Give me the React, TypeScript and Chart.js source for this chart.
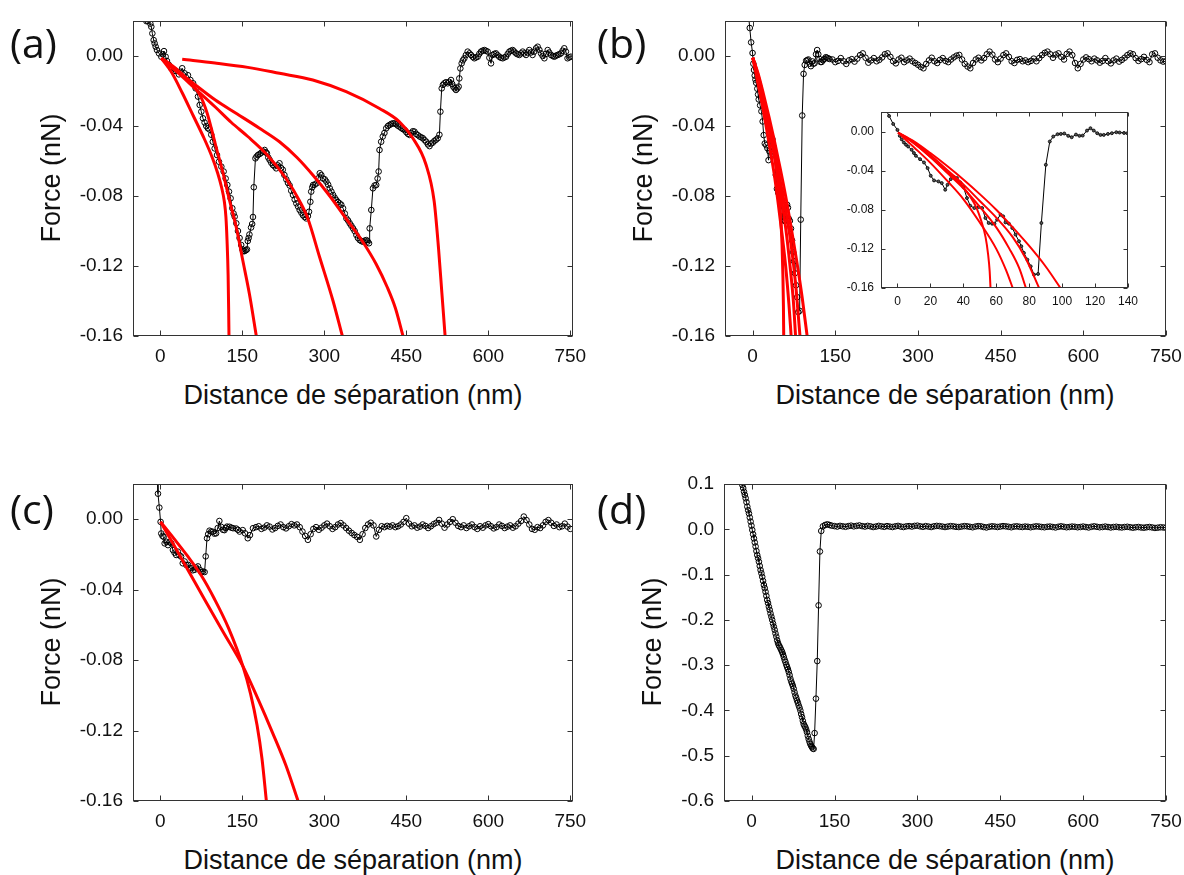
import React, { useEffect, useRef } from "react";
import { Chart, registerables } from "chart.js";

Chart.register(...registerables);

const FONT = '"Liberation Sans", Arial, sans-serif';
const LABEL_FONT = '"Open Sans", sans-serif';

// ---------- axis ticks ----------
const X_TICKS = [0, 150, 300, 450, 600, 750];
const Y_TICKS = [-0.16, -0.12, -0.08, -0.04, 0];
const D_Y_TICKS = [-0.6, -0.5, -0.4, -0.3, -0.2, -0.1, 0, 0.1];
const INSET_X_TICKS = [0, 20, 40, 60, 80, 100, 120, 140];

// ---------- panel (a) data: distance (nm), force (nN) ----------
const A_DIST = [
  -25.5, -22.7, -18.3, -16.5, -14.6, -12.2, -10.4, -8.5, -6.1, -2.4,
  1.8, 4.5, 6.7, 9.7, 12.2, 15.8, 20, 24, 29, 34,
  37, 40, 44.5, 50.6, 55, 60, 64.6, 68.9, 72, 75,
  78, 81, 84, 87, 90, 93.2, 96, 99.4, 103.7, 107.3,
  111.6, 115.8, 119.5, 122.6, 125.6, 128.6, 131.7, 134, 136, 139,
  142, 145, 148, 150, 152, 154, 156.5, 158.5, 160, 161.5,
  163, 166, 168, 169.5, 171, 174, 176, 178.6, 181.7, 184.7,
  187.7, 190.8, 193, 195, 197.5, 200, 203, 206, 209, 212,
  215, 218, 221, 224, 227, 230.5, 233.5, 236.6, 239.5, 242.7,
  245.8, 248.8, 252, 254.9, 258, 261, 264, 267, 270, 272,
  274.5, 276, 278, 279.5, 282.5, 285.6, 288.5, 291.7, 294.5, 297.8,
  301, 303.8, 307, 310, 313, 316, 319, 322, 325, 328,
  331, 334.3, 337.5, 340.4, 343.5, 346.5, 349.5, 352.6, 355.5, 358.7,
  361.5, 364.8, 368, 370.9, 374, 377, 379.5, 381.8, 383, 386,
  389, 392, 395, 397.5, 399.4, 401, 404, 407, 410, 413.3,
  416.5, 419.5, 422.5, 425.5, 428.6, 431.5, 434.5, 437.7, 441, 444,
  446.9, 450, 453, 456, 459, 462, 465, 468, 471, 474.3,
  477.5, 480.5, 483.4, 486.5, 489.5, 492.5, 495.5, 498.4, 501.5, 504.5,
  507.5, 510.6, 512.4, 514.8, 517, 519.6, 522.5, 525.7, 528.7, 531.8,
  534, 536, 538.5, 540.9, 543.5, 545.8, 547, 548.9, 551.3, 553.5,
  556.2, 559, 562.3, 565.5, 568.4, 571.5, 574.5, 577.5, 580.6, 583.5,
  586.7, 589.5, 592.8, 595.5, 598.9, 602, 605, 608, 611, 614,
  617, 620, 623, 626.4, 629.5, 632.5, 635.5, 638.6, 641.5, 644.7,
  647.5, 650.8, 653.5, 656.9, 660, 663, 666, 669, 672, 675,
  678, 681, 684, 687.4, 690.4, 693.5, 696.5, 699.5, 702.6, 705.5,
  708.7, 711.5, 714.8, 718, 720.9, 724, 727, 730, 733, 736,
  739, 742, 745, 748, 751,
];
const A_FORCE = [
  0.0199, 0.02, 0.0185, 0.0167, 0.0129, 0.0091, 0.0072, 0.0053, 0.0034, 0.0015,
  -0.0004, 0.001, 0.0028, -0.0004, -0.0029, -0.0051, -0.007, -0.0086, -0.0086, -0.0105,
  -0.009, -0.007, -0.0099, -0.011, -0.0137, -0.0156, -0.0185, -0.0232, -0.028, -0.0318,
  -0.0356, -0.038, -0.04, -0.0413, -0.042, -0.045, -0.049, -0.0528, -0.0566, -0.0604,
  -0.0632, -0.066, -0.07, -0.0737, -0.0775, -0.0813, -0.087, -0.09, -0.0918, -0.0956,
  -0.1, -0.104, -0.108, -0.1105, -0.1115, -0.1115, -0.111, -0.1105, -0.1057, -0.104,
  -0.102, -0.098, -0.096, -0.092, -0.075, -0.0585, -0.0575, -0.0566, -0.056, -0.0553,
  -0.0545, -0.0537, -0.055, -0.0556, -0.058, -0.0594, -0.061, -0.0623, -0.063, -0.0642,
  -0.0625, -0.0613, -0.064, -0.065, -0.068, -0.0705, -0.0725, -0.074, -0.077, -0.0794,
  -0.082, -0.0842, -0.086, -0.088, -0.0895, -0.091, -0.092, -0.0928, -0.0915, -0.089,
  -0.0833, -0.0775, -0.075, -0.0737, -0.0735, -0.0728, -0.07, -0.067, -0.068, -0.07,
  -0.0705, -0.0718, -0.0735, -0.0756, -0.0775, -0.0794, -0.081, -0.0823, -0.0835, -0.0842,
  -0.085, -0.087, -0.09, -0.0928, -0.094, -0.0956, -0.097, -0.0985, -0.1, -0.1023,
  -0.104, -0.1052, -0.1058, -0.1061, -0.1055, -0.1052, -0.106, -0.107, -0.0985, -0.088,
  -0.0756, -0.074, -0.0737, -0.07, -0.066, -0.0537, -0.049, -0.046, -0.044, -0.0413,
  -0.04, -0.0394, -0.0388, -0.0385, -0.0385, -0.039, -0.0398, -0.0404, -0.0412, -0.0418,
  -0.0423, -0.0435, -0.0445, -0.0451, -0.044, -0.043, -0.0432, -0.0445, -0.0452, -0.046,
  -0.0465, -0.047, -0.048, -0.049, -0.0505, -0.0515, -0.05, -0.0495, -0.0485, -0.0478,
  -0.047, -0.045, -0.0318, -0.0185, -0.0165, -0.0156, -0.015, -0.0156, -0.0148, -0.0137,
  -0.016, -0.0175, -0.0185, -0.0194, -0.0185, -0.0175, -0.0128, -0.0071, -0.0042, -0.0025,
  -0.0013, 0.0005, 0.0025, 0.0015, 0.0006, -0.0005, -0.0013, -0.0008, -0.0004, 0.0012,
  0.0025, 0.003, 0.0034, 0.003, 0.0025, -0.001, -0.0042, 0.0006, 0.0012, 0.0015,
  0.0005, -0.0004, -0.001, -0.0013, -0.0008, -0.0004, 0.0012, 0.0025, 0.003, 0.0034,
  0.0025, 0.0015, 0.001, 0.0006, 0.0015, 0.0025, 0.0015, 0.0006, 0.002, 0.0034,
  0.002, 0.0006, 0.0025, 0.0044, 0.0053, 0.0035, 0.0015, 0.0, -0.0013, 0.0012,
  0.0034, 0.002, 0.0006, 0.0, -0.0004, 0.0002, 0.0006, 0.001, 0.0015, 0.003,
  0.0044, 0.0025, -0.0013, -0.0008, -0.0004,
];

// panel (a) fits
const A_FIT1_X = [1.8, 20, 40, 60, 80, 95, 105, 112, 117, 120, 122, 124, 125, 125.6];
const A_FIT1_Y = [-0.0013, -0.009, -0.021, -0.034, -0.047, -0.058, -0.067, -0.075, -0.083, -0.092, -0.105, -0.125, -0.145, -0.16];
const A_FIT2_X = [1.8, 15, 30, 45, 60, 70, 78, 86, 93, 102, 114, 127, 139, 151, 163, 175.6];
const A_FIT2_Y = [-0.0013, -0.004, -0.0075, -0.012, -0.017, -0.021, -0.026, -0.033, -0.041, -0.052, -0.066, -0.083, -0.098, -0.117, -0.136, -0.16];
const A_FIT3_X = [1.8, 30, 65, 100, 130, 160, 194, 230, 255, 270, 291.5, 316, 333];
const A_FIT3_Y = [-0.0013, -0.009, -0.019, -0.029, -0.038, -0.046, -0.056, -0.07, -0.083, -0.093, -0.115, -0.14, -0.16];
const A_FIT4_X = [1.8, 30, 60, 100, 140, 180, 218, 250, 279, 310, 340, 370, 395, 415, 430, 444];
const A_FIT4_Y = [-0.0013, -0.008, -0.0155, -0.025, -0.033, -0.041, -0.049, -0.058, -0.068, -0.08, -0.093, -0.106, -0.119, -0.132, -0.144, -0.16];
const A_FIT5_X = [40, 100, 160, 218, 279, 340, 401, 437, 462, 486, 501, 509, 515, 521];
const A_FIT5_Y = [-0.0019, -0.004, -0.0065, -0.0099, -0.0137, -0.0204, -0.03, -0.0375, -0.047, -0.062, -0.083, -0.11, -0.135, -0.16];

// ---------- panel (b) data (also used by the inset) ----------
const B_DIST = [
  -7.5, -5.1, -2.6, 0, 1.4, 2.6, 3.9, 5.2, 6.5, 8.6,
  10, 11.2, 13.7, 16.1, 18.3, 20.2, 22.2, 24.9, 26.9, 29,
  30.4, 32.4, 34.4, 36.1, 38.1, 40.1, 42.2, 44.2, 46.7, 49.3,
  51.4, 53.4, 55.4, 57.5, 58.9, 60.5, 62.6, 64.2, 65.6, 67.7,
  69.7, 71.7, 73.8, 75.2, 76.8, 78.9, 80.9, 82.9, 85.4, 87.4,
  90.1, 92.5, 94.6, 97.2, 99.2, 101.3, 103.7, 105.8, 108.4, 110.5,
  112.5, 115.1, 117.2, 119.2, 121.3, 123.3, 125.3, 127.8, 130.2, 132.9,
  134.9, 137.6, 139.6,
  145, 150, 155, 160, 165, 170, 175, 180, 185, 190,
  195, 200, 205, 210, 215, 220, 225, 230, 235, 240,
  245, 250, 255, 260, 265, 270, 275, 280, 285, 290,
  295, 300, 305, 310, 315, 320, 325, 330, 335, 340,
  345, 350, 355, 360, 365, 370, 375, 380, 385, 390,
  395, 400, 405, 410, 415, 420, 425, 430, 435, 440,
  445, 450, 455, 460, 465, 470, 475, 480, 485, 490,
  495, 500, 505, 510, 515, 520, 525, 530, 535, 540,
  545, 550, 555, 560, 565, 570, 575, 580, 585, 590,
  595, 600, 605, 610, 615, 620, 625, 630, 635, 640,
  645, 650, 655, 660, 665, 670, 675, 680, 685, 690,
  695, 700, 705, 710, 715, 720, 725, 730, 735, 740,
  745, 750,
];
const B_FORCE = [
  0.024, 0.016, 0.0078, 0.0017, -0.0044, -0.008, -0.0112, -0.0135, -0.0153, -0.0187,
  -0.022, -0.0248, -0.0282, -0.0316, -0.0374, -0.0452, -0.05, -0.051, -0.0527, -0.0595,
  -0.0544, -0.0486, -0.0466, -0.0476, -0.052, -0.0568, -0.068, -0.0759, -0.0782, -0.0772,
  -0.0782, -0.0884, -0.0935, -0.0942, -0.0942, -0.0901, -0.085, -0.0867, -0.0929, -0.0942,
  -0.0986, -0.1054, -0.1122, -0.1173, -0.1241, -0.131, -0.1378, -0.1463, -0.1456, -0.0935,
  -0.034, -0.0102, -0.0051, -0.0027, -0.0024, -0.002, -0.0044, -0.0058, -0.0031, -0.0044,
  -0.0041, 0.001, 0.0034, 0.001, -0.0017, -0.0034, -0.0034, -0.0024, -0.0017, -0.0007,
  -0.001, -0.0014, -0.0017,
  -0.002, -0.0035, -0.0028, -0.0012, -0.003, -0.0045, -0.0025, -0.0018, -0.0032, -0.0015,
  0.0005, 0.0015, -0.001, -0.0038, -0.0025, -0.0012, -0.003, -0.0022, -0.0008, 0.001,
  0.0015, -0.0005, -0.003, -0.0042, -0.002, -0.001, -0.0035, -0.0025, -0.0015, -0.003,
  -0.004, -0.005, -0.0062, -0.007, -0.0045, -0.0025, -0.001, -0.003, -0.004, -0.0022,
  -0.0012, -0.0028, -0.0035, -0.002, -0.0008, 0.0002, 0.0006, -0.002, -0.0045, -0.006,
  -0.007, -0.004, -0.002, -0.001, -0.0025, -0.0012, 0.001, 0.0025, 0.0008, -0.002,
  -0.0035, -0.0015, 0.0005, 0.0015, -0.0005, -0.003, -0.004, -0.0022, -0.0018, -0.003,
  -0.0025, -0.0035, -0.0028, -0.0015, -0.003, -0.0012, 0.0005, 0.0018, 0.0025, 0.001,
  -0.001, 0.0008, 0.0015, -0.0005, -0.002, 0.0012, 0.0025, 0.0005, -0.004, -0.007,
  -0.0045, -0.002, -0.0008, -0.0018, -0.003, -0.0015, -0.0025, -0.0038, -0.0028, -0.0012,
  -0.003, -0.0042, -0.0025, -0.0015, -0.0032, -0.0022, -0.001, 0.0005, 0.0015, 0.001,
  -0.0012, -0.0028, -0.0018, -0.0005, -0.0022, -0.0035, 0.001, 0.0015, -0.001, -0.0025,
  -0.0032, -0.003,
];

// panel (b) fits (also drawn in the inset)
const B_FIT1_X = [0.4, 10, 20, 30, 38, 44, 48, 51, 53.5, 55, 56, 56.5];
const B_FIT1_Y = [-0.001, -0.012, -0.026, -0.041, -0.053, -0.066, -0.078, -0.092, -0.108, -0.125, -0.143, -0.16];
const B_FIT2_X = [0.4, 10, 20, 30, 40, 50, 60, 66, 70];
const B_FIT2_Y = [-0.001, -0.016, -0.032, -0.05, -0.069, -0.093, -0.12, -0.142, -0.16];
const B_FIT3_X = [0.4, 10, 20, 30, 40, 50, 60, 68, 74, 78];
const B_FIT3_Y = [-0.001, -0.012, -0.026, -0.042, -0.058, -0.077, -0.098, -0.12, -0.14, -0.16];
const B_FIT4_X = [0.4, 10, 20, 30, 40, 50, 60, 70, 78, 86];
const B_FIT4_Y = [-0.001, -0.011, -0.024, -0.039, -0.054, -0.071, -0.088, -0.108, -0.13, -0.16];
const B_FIT5_X = [0.4, 10, 20, 30, 40, 50, 60, 70, 80, 90, 99];
const B_FIT5_Y = [-0.001, -0.01, -0.022, -0.035, -0.049, -0.064, -0.08, -0.098, -0.117, -0.138, -0.16];

// ---------- panel (c) data ----------
const C_DIST = [
  -5.5, -4.3, -1.8, 0.5, 1.7, 4, 6, 7.9, 10.9, 14,
  17, 20, 23, 26, 29, 32, 35, 38, 41, 44.5,
  47.6, 50.6, 53.7, 56.7, 59.5, 62.8, 65.5, 68.9, 72, 75,
  78, 81, 83, 85.4, 87.5, 90, 93, 96, 99, 102,
  105, 108, 111.2, 114.6, 117.3, 120, 122, 126.5, 130, 133,
  138.7, 142, 145, 150.8, 155, 160, 164, 169.5,
  175, 180, 185, 190, 195, 200, 205, 210, 215, 220,
  225, 230, 235, 240, 245, 250, 255, 260, 265, 270,
  275, 280, 285, 290, 295, 300, 305, 310, 315, 320,
  325, 330, 335, 340, 345, 350, 355, 360, 365, 370,
  375, 380, 385, 390, 395, 400, 405, 410, 415, 420,
  425, 430, 435, 440, 445, 450, 455, 460, 465, 470,
  475, 480, 485, 490, 495, 500, 505, 510, 515, 520,
  525, 530, 535, 540, 545, 550, 555, 560, 565, 570,
  575, 580, 585, 590, 595, 600, 605, 610, 615, 620,
  625, 630, 635, 640, 645, 650, 655, 660, 665, 670,
  675, 680, 685, 690, 695, 700, 705, 710, 715, 720,
  725, 730, 735, 740, 745, 750,
];
const C_FORCE = [
  0.024, 0.0145, 0.0066, -0.0015, -0.0081, -0.0095, -0.01, -0.0137, -0.0128, -0.0147,
  -0.013, -0.0137, -0.0175, -0.019, -0.0203, -0.0184, -0.0205, -0.0212, -0.025, -0.024,
  -0.026, -0.0259, -0.0277, -0.0278, -0.029, -0.0287, -0.0275, -0.0268, -0.0287, -0.03,
  -0.0297, -0.03, -0.0211, -0.0108, -0.0085, -0.0065, -0.007, -0.0071, -0.0082, -0.008,
  -0.005, -0.001, -0.0043, -0.006, -0.0062, -0.005, -0.0042, -0.0043, -0.0048, -0.0051,
  -0.0053, -0.006, -0.007, -0.0062, -0.008, -0.0108, -0.009, -0.0051,
  -0.0045, -0.004, -0.0055, -0.0048, -0.0035, -0.0042, -0.0058, -0.005, -0.0038, -0.003,
  -0.0045, -0.0052, -0.004, -0.0028, -0.0035, -0.003, -0.0045, -0.007, -0.0095, -0.0117,
  -0.0085, -0.0055, -0.0045, -0.006, -0.0048, -0.0035, -0.0025, -0.004, -0.0055, -0.0045,
  -0.003, -0.0022, -0.0035, -0.005, -0.0065, -0.0078, -0.009, -0.01, -0.0117, -0.0085,
  -0.005, -0.003, -0.002, -0.0035, -0.0098, -0.006, -0.004, -0.0045, -0.0038, -0.0042,
  -0.0035, -0.0045, -0.004, -0.003, -0.0015, 0.0006, -0.0025, -0.004, -0.0035, -0.0048,
  -0.0042, -0.003, -0.0038, -0.005, -0.004, -0.0028, -0.002, -0.0004, -0.0025, -0.0048,
  -0.003, -0.0015, 0.0, -0.002, -0.0038, -0.0045, -0.0035, -0.005, -0.004, -0.003,
  -0.0045, -0.0055, -0.004, -0.0048, -0.0035, -0.0028, -0.004, -0.0052, -0.0045, -0.003,
  -0.0038, -0.005, -0.0042, -0.0035, -0.0048, -0.004, -0.0025, -0.001, 0.0015, -0.0005,
  -0.003, -0.0055, -0.006, -0.0045, -0.005, -0.0035, -0.0015, -0.0005, -0.002, -0.0038,
  -0.003, -0.0045, -0.004, -0.0025, -0.0042, -0.0055,
];

// panel (c) fits
const C_FIT1_X = [0.5, 25, 50, 75, 99.5, 125, 151, 165, 177, 186, 194];
const C_FIT1_Y = [-0.0015, -0.011, -0.021, -0.032, -0.0456, -0.062, -0.0834, -0.099, -0.117, -0.136, -0.16];
const C_FIT2_X = [0.5, 25, 50, 81, 115, 151, 180, 205, 230, 252];
const C_FIT2_Y = [-0.0015, -0.0148, -0.0285, -0.0456, -0.064, -0.0834, -0.103, -0.121, -0.14, -0.16];

// ---------- panel (d) data ----------
const D_DIST = [
  -16.8, -15.3, -13.8, -12.3, -10.8, -9.3, -7.8, -6.3, -4.8, -3.3,
  -1.8, -0.3, 1.2, 2.7, 4.2, 5.7, 7.2, 8.7, 10.2, 11.7,
  13.2, 14.7, 16.2, 17.7, 19.2, 20.7, 22.2, 23.7, 25.2, 26.7,
  28.2, 29.7, 31.2, 32.7, 34.2, 35.7, 37.2, 38.7, 40.2, 41.7,
  43.2, 44.7, 46.2, 47.7, 49.2, 50.7, 52.2, 53.7, 55.2, 56.7,
  58.2, 59.7, 61.2, 62.7, 64.2, 65.7, 67.2, 68.7, 70.2, 71.7,
  73.2, 74.7, 76.2, 77.7, 79.2, 80.7, 82.2, 83.7, 85.2, 86.7,
  88.2, 89.7, 91.2, 92.7, 94.2, 95.7, 97.2, 98.7, 100.2, 101.7,
  103.2, 104.7, 106.2, 107.7, 109.2, 110.7, 112.2, 114, 116.4, 118.8,
  121.2, 123.6, 126, 129, 133, 137, 141, 145,
  150, 155, 160, 165, 170, 175, 180, 185, 190, 195,
  200, 205, 210, 215, 220, 225, 230, 235, 240, 245,
  250, 255, 260, 265, 270, 275, 280, 285, 290, 295,
  300, 305, 310, 315, 320, 325, 330, 335, 340, 345,
  350, 355, 360, 365, 370, 375, 380, 385, 390, 395,
  400, 405, 410, 415, 420, 425, 430, 435, 440, 445,
  450, 455, 460, 465, 470, 475, 480, 485, 490, 495,
  500, 505, 510, 515, 520, 525, 530, 535, 540, 545,
  550, 555, 560, 565, 570, 575, 580, 585, 590, 595,
  600, 605, 610, 615, 620, 625, 630, 635, 640, 645,
  650, 655, 660, 665, 670, 675, 680, 685, 690, 695,
  700, 705, 710, 715, 720, 725, 730, 735, 740, 745,
  750,
];
const D_FORCE = [
  0.098, 0.091, 0.083, 0.076, 0.0686, 0.06, 0.05, 0.042, 0.035, 0.026,
  0.017, 0.008, -0.0015, -0.011, -0.02, -0.029, -0.038, -0.048, -0.057, -0.064,
  -0.0716, -0.081, -0.09, -0.097, -0.105, -0.114, -0.123, -0.13, -0.138, -0.147,
  -0.156, -0.163, -0.171, -0.178, -0.186, -0.193, -0.2, -0.208, -0.215, -0.222,
  -0.23, -0.237, -0.245, -0.251, -0.256, -0.259, -0.263, -0.267, -0.271, -0.276,
  -0.282, -0.288, -0.293, -0.299, -0.304, -0.309, -0.315, -0.322, -0.33, -0.336,
  -0.341, -0.346, -0.352, -0.36, -0.367, -0.372, -0.378, -0.383, -0.389, -0.394,
  -0.4, -0.408, -0.415, -0.423, -0.43, -0.434, -0.437, -0.442, -0.448, -0.456,
  -0.463, -0.469, -0.474, -0.478, -0.481, -0.484, -0.485, -0.45, -0.374, -0.291,
  -0.168, -0.049, -0.0037, 0.0065, 0.0095, 0.011, 0.0095, 0.008,
  0.007, 0.006, 0.0075, 0.0065, 0.0055, 0.007, 0.008, 0.0065, 0.0075, 0.0085,
  0.007, 0.006, 0.0075, 0.0065, 0.005, 0.006, 0.0075, 0.0065, 0.0055, 0.007,
  0.006, 0.005, 0.0065, 0.0075, 0.006, 0.005, 0.0065, 0.007, 0.006, 0.0075,
  0.008, 0.0065, 0.0055, 0.007, 0.006, 0.005, 0.0065, 0.0075, 0.007, 0.006,
  0.005, 0.006, 0.007, 0.0065, 0.0055, 0.005, 0.006, 0.007, 0.0065, 0.0055,
  0.0045, 0.006, 0.007, 0.0065, 0.005, 0.004, 0.0055, 0.0065, 0.006, 0.005,
  0.006, 0.007, 0.0065, 0.0055, 0.0045, 0.006, 0.0065, 0.0055, 0.005, 0.006,
  0.0055, 0.0045, 0.0055, 0.0065, 0.006, 0.005, 0.0045, 0.0055, 0.006, 0.005,
  0.004, 0.0055, 0.0065, 0.0055, 0.0045, 0.005, 0.006, 0.0055, 0.0045, 0.005,
  0.006, 0.005, 0.004, 0.0055, 0.0065, 0.0055, 0.0045, 0.005, 0.006, 0.005,
  0.004, 0.005, 0.0055, 0.0045, 0.004, 0.005, 0.0055, 0.0045, 0.0035, 0.0045,
  0.005, 0.004, 0.0035, 0.0045, 0.005, 0.004, 0.003, 0.0035, 0.0045, 0.004,
  0.0035,
];

// ---------- chart helpers ----------
type Curve = { x: number[]; y: number[]; fit?: boolean };
type PanelSpec = {
  left: number; top: number; w: number; h: number;
  xMin: number; xMax: number; yMin: number; yMax: number;
  xTicks: number[]; yTicks: number[]; decimals: number;
  curves: Curve[]; inset?: boolean;
};

const framePlugin = {
  id: "frame",
  beforeDraw(chart: any, _a: any, opts: any) {
    if (!opts.bg) return;
    const { ctx, chartArea: ca } = chart;
    ctx.save();
    ctx.fillStyle = opts.bg;
    ctx.fillRect(ca.left, ca.top, ca.right - ca.left, ca.bottom - ca.top);
    ctx.restore();
  },
  afterDraw(chart: any, _a: any, opts: any) {
    const { ctx, chartArea: ca, scales } = chart;
    ctx.save();
    ctx.strokeStyle = opts.color;
    ctx.lineWidth = 1;
    const l = Math.round(ca.left) + 0.5;
    const r = Math.round(ca.right) - 0.5;
    const t = Math.round(ca.top) + 0.5;
    const b = Math.round(ca.bottom) - 0.5;
    ctx.strokeRect(l, t, r - l, b - t);
    const L = opts.tick;
    ctx.beginPath();
    for (const tk of scales.x.ticks) {
      const p = Math.round(scales.x.getPixelForValue(tk.value)) + 0.5;
      ctx.moveTo(p, b); ctx.lineTo(p, b - L);
      ctx.moveTo(p, t); ctx.lineTo(p, t + L);
    }
    for (const tk of scales.y.ticks) {
      const p = Math.round(scales.y.getPixelForValue(tk.value)) + 0.5;
      ctx.moveTo(l, p); ctx.lineTo(l + L, p);
      ctx.moveTo(r, p); ctx.lineTo(r - L, p);
    }
    ctx.stroke();
    ctx.restore();
  },
};

function PlotCanvas({ spec }: { spec: PanelSpec }) {
  const ref = useRef<HTMLCanvasElement | null>(null);
  const inset = !!spec.inset;
  const YW = inset ? 50 : 80;
  const XH = inset ? 28 : 42;
  const PT = 32;
  const PR = 32;
  const W = YW + spec.w + PR;
  const H = PT + spec.h + XH;

  useEffect(() => {
    const datasets = spec.curves.map((c) => {
      const n = Math.min(c.x.length, c.y.length);
      const data: { x: number; y: number }[] = [];
      for (let i = 0; i < n; i++) data.push({ x: c.x[i], y: c.y[i] });
      if (c.fit) {
        return {
          data, showLine: true, borderColor: "#ff0000",
          borderWidth: inset ? 2 : 3, pointRadius: 0,
          cubicInterpolationMode: "monotone" as const, order: 0,
        };
      }
      return {
        data, showLine: true, borderColor: "#000", borderWidth: 1,
        pointRadius: inset ? 1.5 : 2.8, pointBorderWidth: inset ? 0.8 : 1,
        pointBorderColor: "#000",
        pointBackgroundColor: inset ? "#555" : "rgba(0,0,0,0)",
        tension: 0, order: 1,
      };
    });
    const tickFont = { family: FONT, size: inset ? 12 : 19 };
    const chart = new Chart(ref.current as HTMLCanvasElement, {
      type: "scatter",
      data: { datasets: datasets as any },
      options: {
        animation: false,
        responsive: false,
        maintainAspectRatio: false,
        devicePixelRatio: 1,
        events: [],
        layout: { padding: { left: 0, top: PT, right: PR, bottom: 0 } },
        plugins: {
          legend: { display: false },
          tooltip: { enabled: false },
          frame: { color: "#333", tick: inset ? 4 : 5, bg: inset ? "#ffffff" : null },
        } as any,
        scales: {
          x: {
            type: "linear",
            min: spec.xMin,
            max: spec.xMax,
            afterBuildTicks: (s: any) => { s.ticks = spec.xTicks.map((v) => ({ value: v })); },
            afterFit: (s: any) => { s.height = XH; },
            grid: { display: false, drawTicks: false },
            border: { display: false },
            ticks: {
              font: tickFont, color: "#111", padding: inset ? 6 : 9,
              autoSkip: false, maxRotation: 0, minRotation: 0,
              callback: (v: any) => String(v),
            },
          },
          y: {
            type: "linear",
            min: spec.yMin,
            max: spec.yMax,
            afterBuildTicks: (s: any) => { s.ticks = spec.yTicks.map((v) => ({ value: v })); },
            afterFit: (s: any) => { s.width = YW; },
            grid: { display: false, drawTicks: false },
            border: { display: false },
            ticks: {
              font: tickFont, color: "#111", padding: inset ? 7 : 10,
              autoSkip: false,
              callback: (v: any) => Number(v).toFixed(spec.decimals),
            },
          },
        },
      },
      plugins: [framePlugin as any],
    });
    return () => chart.destroy();
  }, []);

  return (
    <canvas
      ref={ref}
      width={W}
      height={H}
      style={{ position: "absolute", left: spec.left - YW, top: spec.top - PT, width: W, height: H }}
    />
  );
}

const A_CURVES: Curve[] = [
  { x: A_DIST, y: A_FORCE },
  { x: A_FIT1_X, y: A_FIT1_Y, fit: true },
  { x: A_FIT2_X, y: A_FIT2_Y, fit: true },
  { x: A_FIT3_X, y: A_FIT3_Y, fit: true },
  { x: A_FIT4_X, y: A_FIT4_Y, fit: true },
  { x: A_FIT5_X, y: A_FIT5_Y, fit: true },
];
const B_CURVES: Curve[] = [
  { x: B_DIST, y: B_FORCE },
  { x: B_FIT1_X, y: B_FIT1_Y, fit: true },
  { x: B_FIT2_X, y: B_FIT2_Y, fit: true },
  { x: B_FIT3_X, y: B_FIT3_Y, fit: true },
  { x: B_FIT4_X, y: B_FIT4_Y, fit: true },
  { x: B_FIT5_X, y: B_FIT5_Y, fit: true },
];
const C_CURVES: Curve[] = [
  { x: C_DIST, y: C_FORCE },
  { x: C_FIT1_X, y: C_FIT1_Y, fit: true },
  { x: C_FIT2_X, y: C_FIT2_Y, fit: true },
];
const D_CURVES: Curve[] = [{ x: D_DIST, y: D_FORCE }];

const PANELS: PanelSpec[] = [
  { left: 133, top: 21, w: 440, h: 315, xMin: -50, xMax: 755, yMin: -0.16, yMax: 0.02, xTicks: X_TICKS, yTicks: Y_TICKS, decimals: 2, curves: A_CURVES },
  { left: 725, top: 21, w: 441, h: 315, xMin: -50, xMax: 750, yMin: -0.16, yMax: 0.02, xTicks: X_TICKS, yTicks: Y_TICKS, decimals: 2, curves: B_CURVES },
  { left: 133, top: 484, w: 440, h: 317, xMin: -50, xMax: 755, yMin: -0.16, yMax: 0.02, xTicks: X_TICKS, yTicks: Y_TICKS, decimals: 2, curves: C_CURVES },
  { left: 724, top: 484, w: 442, h: 317, xMin: -50, xMax: 750, yMin: -0.6, yMax: 0.1, xTicks: X_TICKS, yTicks: D_Y_TICKS, decimals: 1, curves: D_CURVES },
  { left: 881, top: 112, w: 247, h: 176, xMin: -10, xMax: 140, yMin: -0.16, yMax: 0.02, xTicks: INSET_X_TICKS, yTicks: Y_TICKS, decimals: 2, curves: B_CURVES, inset: true },
];

const X_TITLE = "Distance de séparation (nm)";
const Y_TITLE = "Force (nN)";
const TITLE_POS = [
  { xt: [353, 395], yt: [51, 178] },
  { xt: [945, 395], yt: [643, 178] },
  { xt: [353, 860], yt: [51, 642] },
  { xt: [945, 860], yt: [652, 642] },
];
const PANEL_LABELS = [
  { t: "(a)", x: 10, y: 42 },
  { t: "(b)", x: 597, y: 42 },
  { t: "(c)", x: 10, y: 508 },
  { t: "(d)", x: 597, y: 508 },
];

export default function App() {
  const titleStyle: React.CSSProperties = {
    position: "absolute", fontFamily: FONT, fontSize: 27, lineHeight: 1,
    whiteSpace: "nowrap", color: "#111",
  };
  return (
    <div style={{ position: "absolute", left: 0, top: 0, width: 1184, height: 875, background: "#fff", overflow: "hidden" }}>
      {PANELS.map((p, i) => <PlotCanvas key={i} spec={p} />)}
      {TITLE_POS.map((tp, i) => (
        <React.Fragment key={i}>
          <div style={{ ...titleStyle, left: tp.xt[0], top: tp.xt[1], transform: "translate(-50%,-50%)" }}>{X_TITLE}</div>
          <div style={{ ...titleStyle, left: tp.yt[0], top: tp.yt[1], transform: "translate(-50%,-50%) rotate(-90deg)" }}>{Y_TITLE}</div>
        </React.Fragment>
      ))}
      {PANEL_LABELS.map((l, i) => (
        <div key={i} style={{ position: "absolute", left: l.x, top: l.y, transform: "translateY(-50%)", fontFamily: LABEL_FONT, fontSize: 41, lineHeight: 1, color: "#111" }}>{l.t}</div>
      ))}
    </div>
  );
}
